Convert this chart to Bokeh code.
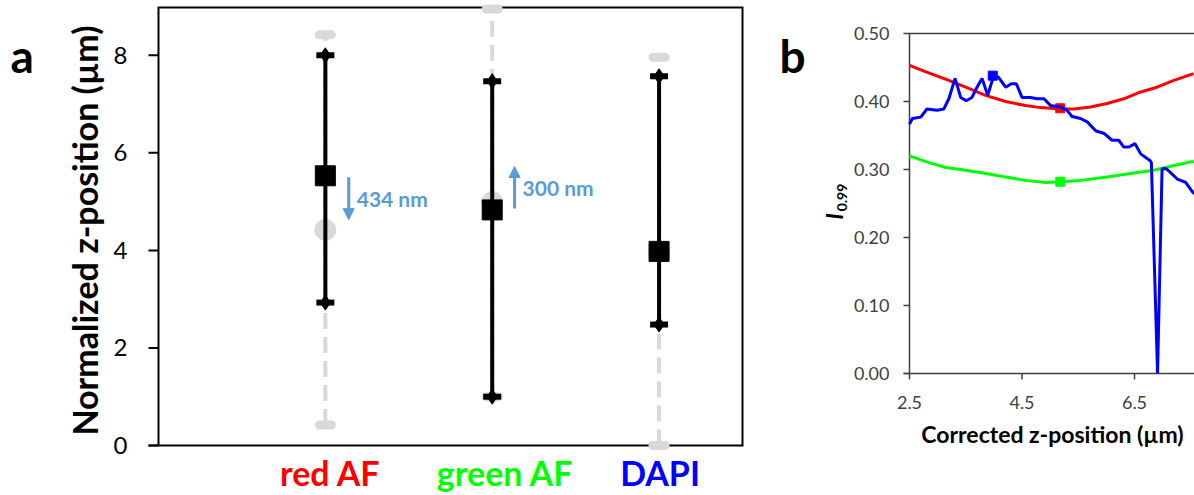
import numpy as np
from bokeh.plotting import figure
from bokeh.layouts import row
from bokeh.models import Arrow, NormalHead, Range1d
from bokeh.core.properties import value
from bokeh.embed import file_html
from bokeh.resources import INLINE

# ---------------- Panel a data ----------------
categories = ["red AF", "green AF", "DAPI"]
cat_pos = [1, 2, 3]
cat_colors = ["#ff0000", "#00ff00", "#0000ff"]
black_center = [5.53, 4.83, 3.98]
black_low = [2.93, 1.00, 2.48]
black_high = [8.00, 7.47, 7.57]
gray_center = [4.42, 4.99, 3.98]
gray_low = [0.42, 1.00, 0.00]
gray_high = [8.42, 8.95, 7.96]
a_yticks = [0, 2, 4, 6, 8]
a_ytick_labels = ["0", "2", "4", "6", "8"]
shift_labels = ["434 nm", "300 nm"]
shift_x = [1.14, 2.134]
shift_start = [5.50, 4.86]
shift_end = [4.63, 5.72]

# ---------------- Panel b data ----------------
red_x = [2.5, 2.78, 3.14, 3.5, 3.85, 4.21, 4.56, 4.83, 5.18, 5.42, 5.72, 6.01, 6.31, 6.61, 6.9, 7.2, 7.55]
red_y = [0.453, 0.444, 0.433, 0.421, 0.409, 0.400, 0.394, 0.391, 0.389, 0.389, 0.392, 0.397, 0.404, 0.414, 0.421, 0.431, 0.441]
green_x = [2.5, 2.78, 3.14, 3.5, 3.85, 4.21, 4.56, 4.92, 5.18, 5.54, 6.01, 6.49, 6.84, 7.2, 7.55]
green_y = [0.320, 0.312, 0.303, 0.299, 0.294, 0.289, 0.284, 0.281, 0.282, 0.284, 0.289, 0.295, 0.299, 0.306, 0.312]
blue_x = [2.5, 2.55, 2.7, 2.81, 2.99, 3.11, 3.2, 3.31, 3.41, 3.51, 3.61, 3.7, 3.79, 3.89, 3.99, 4.08,
          4.21, 4.31, 4.4, 4.5, 4.65, 4.77, 4.89, 5.01, 5.18, 5.3, 5.39, 5.54, 5.66, 5.81, 5.96, 6.1,
          6.22, 6.31, 6.4, 6.51, 6.61, 6.78, 6.8, 6.91, 6.99, 7.07, 7.26, 7.41, 7.53, 7.6]
blue_y = [0.367, 0.375, 0.377, 0.389, 0.387, 0.389, 0.404, 0.434, 0.406, 0.401, 0.406, 0.421, 0.434, 0.409, 0.436, 0.436,
          0.421, 0.426, 0.426, 0.406, 0.406, 0.404, 0.404, 0.394, 0.392, 0.387, 0.378, 0.375, 0.370, 0.357, 0.353, 0.343,
          0.343, 0.333, 0.333, 0.338, 0.323, 0.313, 0.310, 0.000, 0.301, 0.301, 0.286, 0.281, 0.267, 0.262]
opt_x = [5.18, 5.18, 3.98]
opt_y = [0.390, 0.282, 0.438]
line_colors = ["#ff0000", "#00ff00", "#0000ff"]
b_yticks = [0.0, 0.1, 0.2, 0.3, 0.4, 0.5]
b_ytick_labels = ["0.00", "0.10", "0.20", "0.30", "0.40", "0.50"]
b_xticks = [2.5, 4.5, 6.5]
b_xtick_labels = ["2.5", "4.5", "6.5"]

FONT = value("Lato")
ARROW_C = "#5B9BD5"
GRAY = "#d9d9d9"
AXC = "#404040"

# ---------------- layout (pixels) ----------------
H = 495
W1, W2 = 758, 436
A_L, A_R, A_T, A_B = 158, 742, 7, 445
A_XMAX, A_YMAX = 3.5, 8.98
sxa = (A_R - A_L) / A_XMAX
sya = (A_B - A_T) / A_YMAX


def ax(px):
    return (px - A_L) / sxa


def ay(py):
    return (A_B - py) / sya


OFF = W1  # panel b canvas starts here
B_L, B_T, B_B = 909, 33, 373
B_X0, B_YMAX = 2.5, 0.5
sxb = 56.25
syb = (B_B - B_T) / B_YMAX


def bx(px):
    return B_X0 + (px - B_L) / sxb


def by(py):
    return (B_B - py) / syb


# ================= Panel a =================
p1 = figure(width=W1, height=H, output_backend="svg", toolbar_location=None,
            x_range=Range1d(ax(0), ax(W1)), y_range=Range1d(ay(H), ay(0)),
            min_border=0, x_axis_location=None, y_axis_location=None)
p1.grid.visible = False
p1.outline_line_color = None
p1.background_fill_color = "white"
p1.border_fill_color = "white"

# frame box and axes
p1.line(x=[0, A_XMAX, A_XMAX, 0, 0], y=[0, 0, A_YMAX, A_YMAX, 0], line_color="black", line_width=2, line_join="miter")
p1.segment(x0=[ax(148)], y0=[0], x1=[0], y1=[0], line_color="black", line_width=2)
p1.segment(x0=[ax(148)] * len(a_yticks), y0=a_yticks, x1=[0] * len(a_yticks), y1=a_yticks,
           line_color="black", line_width=2)
p1.text(x=[ax(127)] * len(a_yticks), y=a_yticks, text=a_ytick_labels, text_font=FONT, text_font_size="24px",
        text_color="black", text_align="right", text_baseline="middle")
p1.text(x=[ax(84)], y=[ay(230)], text=["Normalized z-position (µm)"], angle=np.pi / 2, text_font=FONT,
        text_font_style="bold", text_font_size="34px", text_color="black", text_align="center",
        text_baseline="middle")

# gray (original) ranges
p1.segment(x0=cat_pos, y0=gray_low, x1=cat_pos, y1=gray_high, line_color=GRAY, line_width=4, line_dash="16 8")
p1.scatter(x=cat_pos, y=gray_low, marker="dash", size=12, line_color=GRAY, line_width=9, line_cap="round")
p1.scatter(x=cat_pos, y=gray_high, marker="dash", size=12, line_color=GRAY, line_width=9, line_cap="round")
p1.scatter(x=cat_pos, y=gray_center, marker="circle", size=21, fill_color=GRAY, line_color=GRAY)
# black (corrected) ranges
p1.segment(x0=cat_pos, y0=black_low, x1=cat_pos, y1=black_high, line_color="black", line_width=4)
for ys in (black_low, black_high):
    p1.scatter(x=cat_pos, y=ys, marker="dash", size=18, line_color="black", line_width=6)
    p1.scatter(x=cat_pos, y=ys, marker="diamond", size=15, fill_color="black", line_color="black")
p1.scatter(x=cat_pos, y=black_center, marker="square", size=20, fill_color="black", line_color="black")

# shift arrows
for lab, sx, s0, s1 in zip(shift_labels, shift_x, shift_start, shift_end):
    p1.add_layout(Arrow(end=NormalHead(size=11, fill_color=ARROW_C, line_color=ARROW_C),
                        x_start=sx, y_start=s0, x_end=sx, y_end=s1,
                        line_color=ARROW_C, line_width=3))
    p1.text(x=[sx], y=[(s0 + s1) / 2], x_offset=8, text=[lab], text_font=FONT, text_font_style="bold",
            text_font_size="21px", text_color=ARROW_C, text_align="left", text_baseline="middle")

# category labels
p1.text(x=cat_pos, y=[ay(472)] * 3, x_offset=[5, 13, 1], text=categories, text_font=FONT,
        text_font_style="bold", text_font_size="34px", text_color=cat_colors, text_align="center",
        text_baseline="middle")

# panel letter
p1.text(x=[ax(10)], y=[ay(55)], text=["a"], text_font=FONT, text_font_style="bold", text_font_size="46px",
        text_color="black", text_align="left", text_baseline="alphabetic")

# ================= Panel b =================
p2 = figure(width=W2, height=H, output_backend="svg", toolbar_location=None,
            x_range=Range1d(bx(OFF), bx(OFF + W2)), y_range=Range1d(by(H), by(0)),
            min_border=0, x_axis_location=None, y_axis_location=None)
p2.grid.visible = False
p2.outline_line_color = None
p2.background_fill_color = "white"
p2.border_fill_color = "white"

XEND = bx(OFF + W2 + 5)
# axes / top border
p2.line(x=[XEND, B_X0, B_X0], y=[B_YMAX, B_YMAX, 0], line_color=AXC, line_width=1.5, line_join="miter")
p2.segment(x0=[bx(903)], y0=[0], x1=[XEND], y1=[0], line_color=AXC, line_width=1.5)
p2.segment(x0=[bx(903)] * len(b_yticks), y0=b_yticks, x1=[B_X0] * len(b_yticks), y1=b_yticks,
           line_color=AXC, line_width=1.5)
p2.segment(x0=b_xticks, y0=[0] * len(b_xticks), x1=b_xticks, y1=[by(379)] * len(b_xticks),
           line_color=AXC, line_width=1.5)
p2.text(x=[bx(889)] * len(b_yticks), y=b_yticks, text=b_ytick_labels, text_font=FONT, text_font_size="18px",
        text_color=AXC, text_align="right", text_baseline="middle")
p2.text(x=b_xticks, y=[by(402)] * len(b_xticks), text=b_xtick_labels, text_font=FONT, text_font_size="18px",
        text_color=AXC, text_align="center", text_baseline="middle")
p2.text(x=[bx(1052)], y=[by(433)], text=["Corrected z-position (µm)"], text_font=FONT, text_font_style="bold",
        text_font_size="23px", text_color="black", text_align="center", text_baseline="middle")

# curves
p2.line(red_x, red_y, line_color=line_colors[0], line_width=3)
p2.line(green_x, green_y, line_color=line_colors[1], line_width=3)
p2.scatter(opt_x[:2], opt_y[:2], marker="square", size=9, fill_color=line_colors[:2], line_color=line_colors[:2])
p2.line(blue_x, blue_y, line_color=line_colors[2], line_width=3)
p2.scatter(opt_x[2:], opt_y[2:], marker="square", size=9, fill_color=line_colors[2], line_color=line_colors[2])

# y label I_0.99 (rotated)
p2.text(x=[bx(834)], y=[by(216)], text=["I"], angle=np.pi / 2, text_font=FONT, text_font_style="bold italic",
        text_font_size="22px", text_color="black", text_align="center", text_baseline="middle")
p2.text(x=[bx(841)], y=[by(197)], text=["0.99"], angle=np.pi / 2, text_font=FONT, text_font_style="bold",
        text_font_size="14px", text_color="black", text_align="center", text_baseline="middle")
# panel letter
p2.text(x=[bx(779)], y=[by(55)], text=["b"], text_font=FONT, text_font_style="bold", text_font_size="46px",
        text_color="black", text_align="left", text_baseline="alphabetic")

layout = row(p1, p2)
open("out.html", "w").write(file_html(layout, INLINE))
